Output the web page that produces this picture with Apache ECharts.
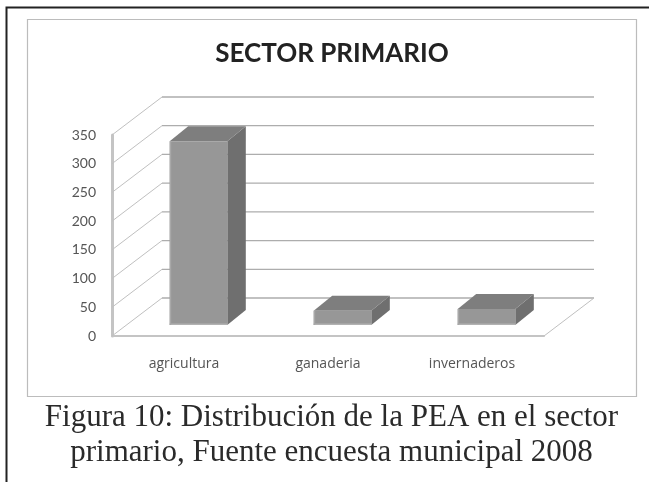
<!DOCTYPE html>
<html>
<head>
<meta charset="utf-8">
<style>html,body{margin:0;padding:0;background:#fff}#c{width:649px;height:482px}</style>
<script src="https://cdn.jsdelivr.net/npm/echarts@6/dist/echarts.min.js"></script>
</head>
<body>
<div id="c"></div>
<script>
const categories = ['agricultura', 'ganaderia', 'invernaderos'];
const values = [320, 25, 28];
const yTicks = [0, 50, 100, 150, 200, 250, 300, 350];
const chartTitle = 'SECTOR PRIMARIO';
const captionLines = ['Figura 10: Distribución de la PEA en el sector', 'primario, Fuente encuesta municipal 2008'];

const chart = echarts.init(document.getElementById('c'), null, { renderer: 'canvas' });
const wallDx = 50, wallDy = -38;
const frontDx = 14.5, frontDy = -11, backDx = 33, backDy = -26;
const barFrac = 0.4;

function renderWall(params, api) {
  const cs = params.coordSys;
  const p = api.coord([0, api.value(1)]);
  const y = p[1], x0 = cs.x, x1 = cs.x + cs.width;
  const children = [
    { type: 'line', shape: { x1: x0, y1: y, x2: x0 + wallDx, y2: y + wallDy },
      style: { stroke: '#c0c0c0', lineWidth: 1 } },
    { type: 'line', shape: { x1: x0 + wallDx, y1: y + wallDy, x2: x1 + wallDx, y2: y + wallDy },
      style: { stroke: '#adadad', lineWidth: 1.3 } }
  ];
  if (api.value(1) === 0) {
    children.push({ type: 'line', shape: { x1: x1, y1: y, x2: x1 + wallDx, y2: y + wallDy },
      style: { stroke: '#c0c0c0', lineWidth: 1 } });
  }
  return { type: 'group', children };
}

function renderBar(params, api) {
  const i = api.value(0), v = api.value(1);
  const top = api.coord([i, v]), base = api.coord([i, 0]);
  const bw = api.size([1, 0])[0] * barFrac;
  const cx = top[0] + frontDx;
  const l = cx - bw / 2, r = cx + bw / 2;
  const t = top[1] + frontDy, b = base[1] + frontDy;
  const ddx = backDx - frontDx, ddy = backDy - frontDy;
  return { type: 'group', children: [
    { type: 'polygon', shape: { points: [[r, t], [r + ddx, t + ddy], [r + ddx, b + ddy], [r, b]] }, style: { fill: '#6f6f6f' } },
    { type: 'polygon', shape: { points: [[l, t], [l + ddx, t + ddy], [r + ddx, t + ddy], [r, t]] }, style: { fill: '#7e7e7e' } },
    { type: 'rect', shape: { x: l, y: t, width: bw, height: b - t }, style: { fill: '#979797' } },
    { type: 'rect', shape: { x: l, y: b - 1.5, width: bw, height: 1.5 }, style: { fill: '#b2b2b2' } },
    { type: 'rect', shape: { x: l, y: t, width: 1.5, height: b - t }, style: { fill: '#a8a8a8' } }
  ] };
}

chart.setOption({
  animation: false,
  backgroundColor: '#fff',
  title: [
    { text: chartTitle, left: 327, top: 36, textAlign: 'center',
      textStyle: { fontFamily: 'Lato', fontWeight: 'bold', fontSize: 26, color: '#222' } },
    { text: captionLines[0], left: 326.5, top: 397, textAlign: 'center',
      textStyle: { fontFamily: 'Liberation Serif', fontWeight: 'normal', fontSize: 31, color: '#2a2a2a' } },
    { text: captionLines[1], left: 326.5, top: 432, textAlign: 'center',
      textStyle: { fontFamily: 'Liberation Serif', fontWeight: 'normal', fontSize: 31, color: '#2a2a2a' } }
  ],
  graphic: [
    { type: 'rect', silent: true, z: -1, shape: { x: 27.5, y: 19.5, width: 609, height: 377 },
      style: { fill: '#fff', stroke: '#bcbcbc', lineWidth: 1.2 } },
    { type: 'polyline', silent: true, z: -1, shape: { points: [[6.5, 482], [6.5, 7.5], [649, 7.5]] },
      style: { fill: null, stroke: '#222', lineWidth: 2 } }
  ],
  grid: { left: 112, right: 105, top: 135, bottom: 146 },
  xAxis: {
    type: 'category', data: categories,
    axisTick: { show: false },
    axisLine: { show: true, lineStyle: { color: '#c4c4c4', width: 2 } },
    axisLabel: { margin: 21, fontFamily: 'Open Sans', fontSize: 14, color: '#555' }
  },
  yAxis: {
    type: 'value', min: 0, max: 350, interval: 50,
    axisTick: { show: false },
    splitLine: { show: false },
    axisLine: { show: true, lineStyle: { color: '#c4c4c4', width: 3 } },
    axisLabel: { margin: 16, padding: [3, 0, 0, 0], fontFamily: 'Lato', fontSize: 14, color: '#555' }
  },
  series: [
    { type: 'custom', name: 'walls', z: 1, silent: true, renderItem: renderWall, clip: false,
      encode: { x: 0, y: 1 }, data: yTicks.map(t => [0, t]) },
    { type: 'custom', name: 'PEA', z: 2, silent: true, renderItem: renderBar, clip: false,
      encode: { x: 0, y: 1 }, data: values.map((v, i) => [i, v]) }
  ]
});
</script>
</body>
</html>
